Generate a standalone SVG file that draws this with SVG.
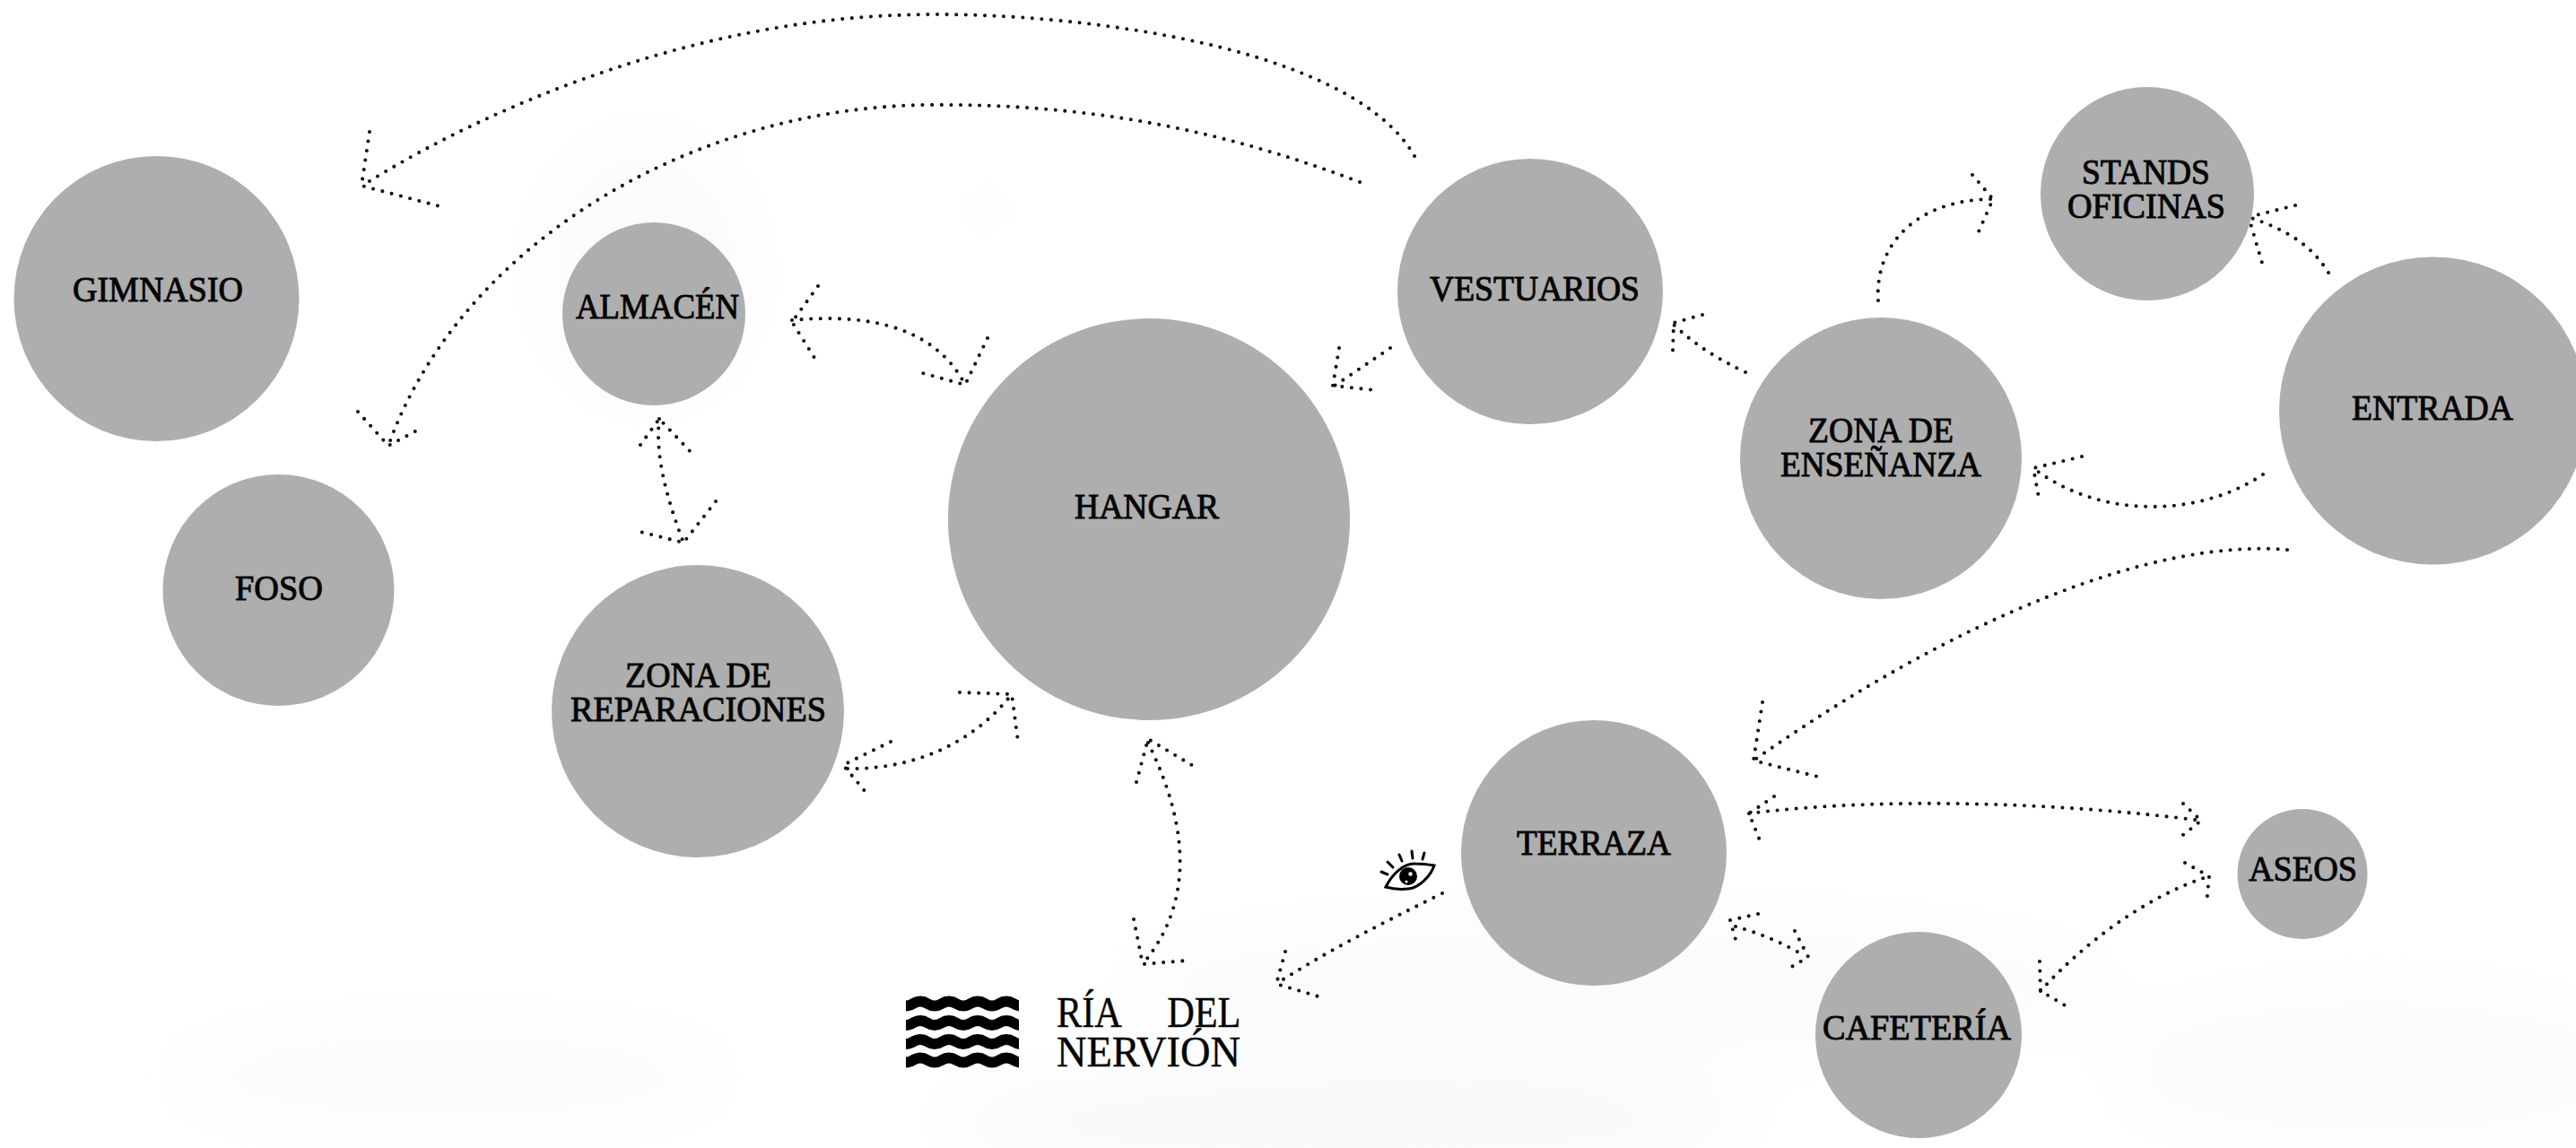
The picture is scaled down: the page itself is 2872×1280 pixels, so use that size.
<svg xmlns="http://www.w3.org/2000/svg" width="2872" height="1280" viewBox="0 0 2872 1280">
<style>
.n{fill:#aeaeae}
.t{font-family:"Liberation Serif","Times New Roman",serif;font-size:41px;fill:#050505;stroke:#050505;stroke-width:1px}
.r{font-family:"Liberation Serif","Times New Roman",serif;font-size:48px;fill:#050505;stroke:#050505;stroke-width:.4px}
.c{fill:none;stroke:#111;stroke-width:4.100;stroke-linecap:round;stroke-dasharray:0 10.6}
.w{fill:none;stroke:#000;stroke-width:12}
</style>
<defs>
<filter id="b" x="-30%" y="-60%" width="160%" height="220%"><feGaussianBlur stdDeviation="40"/></filter>
<clipPath id="wc"><rect x="1010" y="1105" width="126" height="90"/></clipPath>
</defs>
<rect width="2872" height="1280" fill="#fff"/>
<g id="background" filter="url(#b)" fill="#fbfbfc">
<ellipse cx="720" cy="300" rx="120" ry="150"/>
<ellipse cx="1100" cy="235" rx="50" ry="18"/>
<ellipse cx="1800" cy="1100" rx="560" ry="80"/>
<ellipse cx="1500" cy="1250" rx="460" ry="50" fill="#f8f8fb"/>
<ellipse cx="2650" cy="1190" rx="300" ry="90"/>
<ellipse cx="500" cy="1200" rx="320" ry="60"/>
</g>
<g id="connectors">
<path class="c" d="M1577,174C1500,40 1150,10 1000,17C780,25 560,110 407,205"/>
<path class="c" d="M412,147L403,207L494,231"/>
<path class="c" d="M1516,203C1350,140 1200,115 1030,117C760,122 510,280 433,497"/>
<path class="c" d="M399,459L433,497L472,476"/>
<path class="c" d="M883,357C960,350 1040,360 1076,429"/>
<path class="c" d="M912,319L883,359L910,402"/>
<path class="c" d="M1101,377L1076,429L1025,415"/>
<path class="c" d="M735,467C730,510 745,560 762,605"/>
<path class="c" d="M714,496L735,467L772,506"/>
<path class="c" d="M798,559L762,605L706,591"/>
<path class="c" d="M945,857C1010,858 1080,835 1128,774"/>
<path class="c" d="M993,827L940,853L965,883"/>
<path class="c" d="M1070,772L1128,774L1135,827"/>
<path class="c" d="M1280,828C1310,890 1345,990 1274,1075"/>
<path class="c" d="M1267,872L1280,824L1332,855"/>
<path class="c" d="M1264,1025L1274,1075L1323,1071"/>
<path class="c" d="M1608,996C1540,1030 1480,1060 1423,1097"/>
<path class="c" d="M1433,1061L1423,1097L1473,1112"/>
<path class="c" d="M2094,335C2090,270 2140,222 2222,222"/>
<path class="c" d="M2199,195L2222,222L2203,265"/>
<path class="c" d="M2596,304C2575,270 2545,255 2507,242"/>
<path class="c" d="M2559,229L2507,242L2522,293"/>
<path class="c" d="M1946,415C1915,400 1890,385 1866,362"/>
<path class="c" d="M1898,351L1866,360L1865,391"/>
<path class="c" d="M2523,529C2450,578 2340,578 2267,522"/>
<path class="c" d="M2321,509L2267,522L2274,560"/>
<path class="c" d="M1550,388L1488,430"/>
<path class="c" d="M1493,388L1486,430L1533,435"/>
<path class="c" d="M2550,613C2400,600 2180,690 1955,848"/>
<path class="c" d="M1965,783L1955,848L2031,867"/>
<path class="c" d="M1950,907C2100,888 2300,895 2454,915"/>
<path class="c" d="M1978,888L1950,907L1962,937"/>
<path class="c" d="M2434,896L2454,915L2430,934"/>
<path class="c" d="M1935,1033C1960,1040 1990,1052 2012,1066"/>
<path class="c" d="M1960,1019L1929,1026L1936,1051"/>
<path class="c" d="M2001,1038L2016,1067L1994,1080"/>
<path class="c" d="M2275,1105C2320,1055 2390,1000 2463,977"/>
<path class="c" d="M2274,1072L2275,1105L2304,1122"/>
<path class="c" d="M2436,962L2463,977L2460,1009"/>
</g>
<g id="gimnasio"><circle class="n" cx="174.500" cy="333" r="159"/><text class="t" x="81" y="336" textLength="190" lengthAdjust="spacingAndGlyphs">GIMNASIO</text></g>
<g id="foso"><circle class="n" cx="310.500" cy="658" r="129"/><text class="t" x="262" y="669" textLength="98" lengthAdjust="spacingAndGlyphs">FOSO</text></g>
<g id="almacen"><circle class="n" cx="729" cy="350" r="102"/><text class="t" x="642" y="355" textLength="182" lengthAdjust="spacingAndGlyphs">ALMACÉN</text></g>
<g id="zona-reparaciones"><circle class="n" cx="778" cy="793" r="163"/><text class="t" x="697" y="766" textLength="163" lengthAdjust="spacingAndGlyphs">ZONA DE</text><text class="t" x="636" y="804" textLength="285" lengthAdjust="spacingAndGlyphs">REPARACIONES</text></g>
<g id="hangar"><circle class="n" cx="1281" cy="579" r="224"/><text class="t" x="1198" y="578" textLength="161" lengthAdjust="spacingAndGlyphs">HANGAR</text></g>
<g id="vestuarios"><circle class="n" cx="1706" cy="325" r="148"/><text class="t" x="1594" y="335" textLength="234" lengthAdjust="spacingAndGlyphs">VESTUARIOS</text></g>
<g id="zona-ensenanza"><circle class="n" cx="2097" cy="511" r="157"/><text class="t" x="2016" y="493" textLength="162" lengthAdjust="spacingAndGlyphs">ZONA DE</text><text class="t" x="1985" y="531" textLength="224" lengthAdjust="spacingAndGlyphs">ENSEÑANZA</text></g>
<g id="stands-oficinas"><circle class="n" cx="2394" cy="216" r="119"/><text class="t" x="2321" y="205" textLength="143" lengthAdjust="spacingAndGlyphs">STANDS</text><text class="t" x="2305" y="243" textLength="176" lengthAdjust="spacingAndGlyphs">OFICINAS</text></g>
<g id="entrada"><circle class="n" cx="2712.500" cy="458" r="171.500"/><text class="t" x="2622" y="468" textLength="180" lengthAdjust="spacingAndGlyphs">ENTRADA</text></g>
<g id="terraza"><circle class="n" cx="1777" cy="951" r="148"/><text class="t" x="1691" y="953" textLength="172" lengthAdjust="spacingAndGlyphs">TERRAZA</text></g>
<g id="aseos"><circle class="n" cx="2567" cy="974.500" r="72.500"/><text class="t" x="2507" y="982" textLength="121" lengthAdjust="spacingAndGlyphs">ASEOS</text></g>
<g id="cafeteria"><circle class="n" cx="2139" cy="1154" r="115"/><text class="t" x="2032" y="1159" textLength="210" lengthAdjust="spacingAndGlyphs">CAFETERÍA</text></g>
<g id="ria-del-nervion">
<g clip-path="url(#wc)">
<path class="w" d="M1002,1119q8,5 16,0t16,0t16,0t16,0t16,0t16,0t16,0t16,0t16,0"/>
<path class="w" d="M1002,1140.500q8,5 16,0t16,0t16,0t16,0t16,0t16,0t16,0t16,0t16,0"/>
<path class="w" d="M1002,1161.500q8,5 16,0t16,0t16,0t16,0t16,0t16,0t16,0t16,0t16,0"/>
<path class="w" d="M1002,1182q8,5 16,0t16,0t16,0t16,0t16,0t16,0t16,0t16,0t16,0"/>
</g>
<text class="r" transform="translate(1178,1145) scale(.88,1)"><tspan x="0">RÍA</tspan> <tspan x="140">DEL</tspan></text>
<text class="r" x="1178" y="1189" textLength="205" lengthAdjust="spacingAndGlyphs">NERVIÓN</text>
</g>
<g id="eye" fill="none" stroke="#000" stroke-width="3" stroke-linecap="round">
<path d="M1545,989C1552,975 1565,962 1578,963C1587,963 1593,964 1599,965C1595,977 1582,990 1570,991C1560,992 1552,991 1545,989Z"/>
<circle cx="1570" cy="977" r="10" fill="#000" stroke="none"/>
<circle cx="1572.500" cy="974.500" r="2.200" fill="#fff" stroke="none"/><circle cx="1568" cy="983" r="1.500" fill="#fff" stroke="none"/>
<path d="M1540,972L1547,975M1547,961L1553,967M1560,953L1563,960M1574,949L1575,957M1588,951L1586,958"/>
</g>
</svg>
